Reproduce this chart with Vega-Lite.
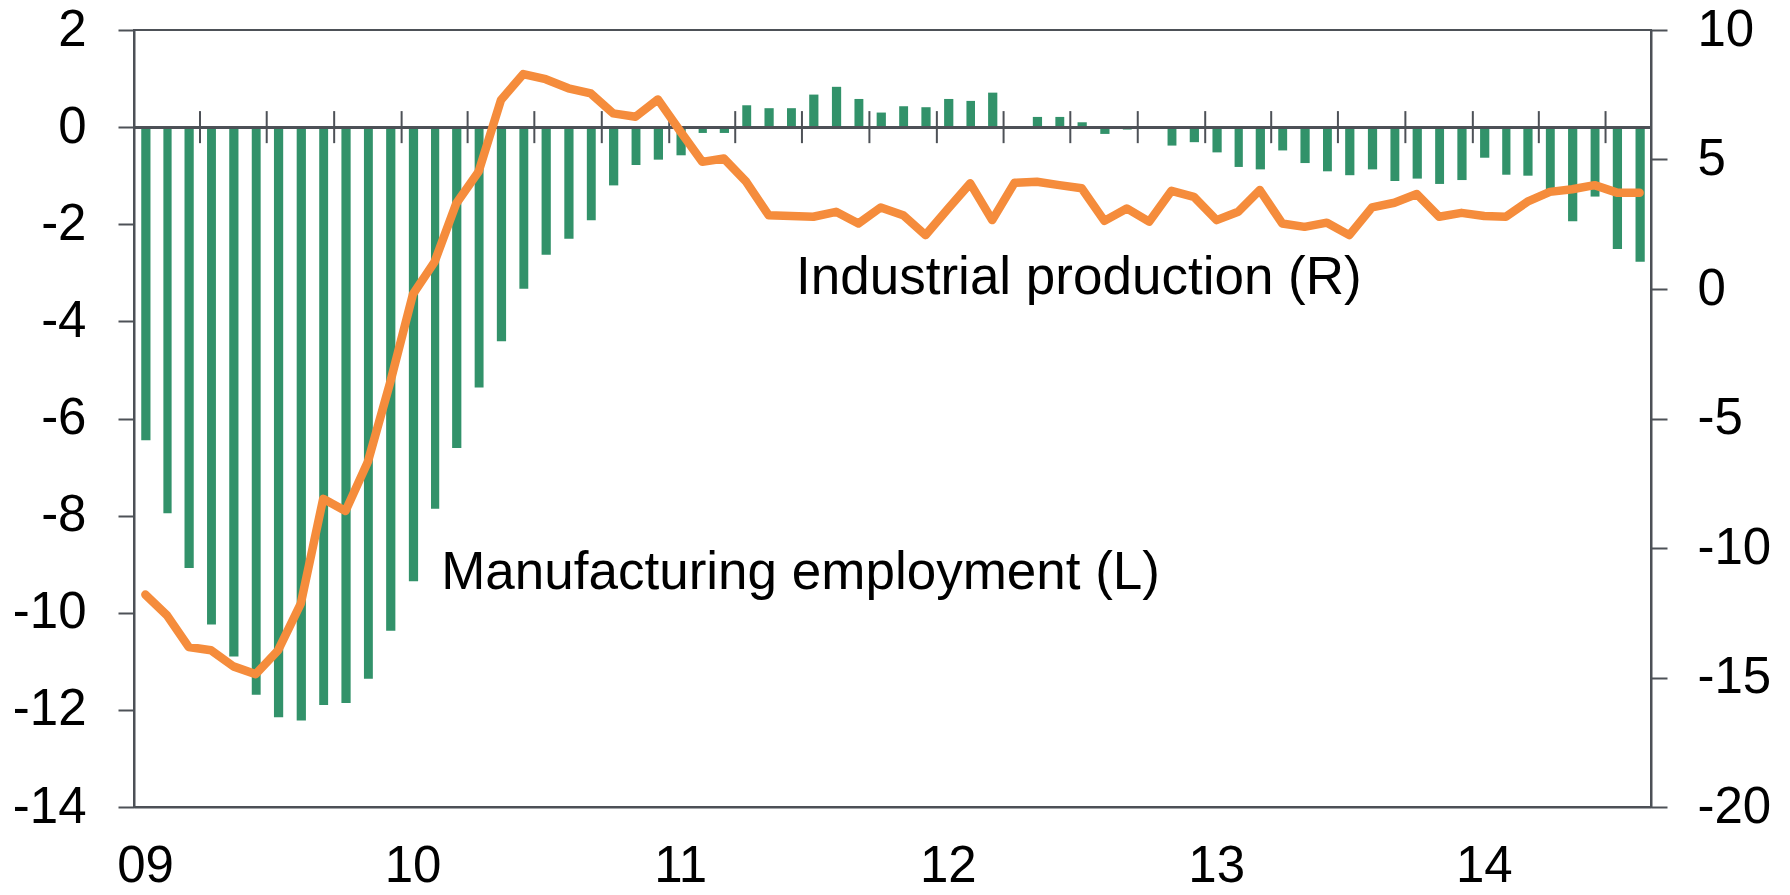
{
  "$schema": "https://vega.github.io/schema/vega-lite/v6.json",
  "width": 1517,
  "height": 777,
  "autosize": {"type": "none"},
  "padding": {"left": 134, "top": 30, "right": 139, "bottom": 88},
  "background": "white",
  "config": {
    "font": "Liberation Sans",
    "view": {"stroke": "#4d5157", "strokeWidth": 2},
    "axis": {
      "grid": false,
      "domainColor": "#4d5157",
      "domainWidth": 2,
      "tickColor": "#4d5157",
      "tickWidth": 2,
      "labelColor": "black",
      "labelFont": "Liberation Sans",
      "labelFontSize": 51
    }
  },
  "data": {
    "format": {"parse": {"date": "date"}},
    "values": [
      {"date": "2009-01-01", "emp": -6.45, "ip": -11.8},
      {"date": "2009-02-01", "emp": -7.95, "ip": -12.6},
      {"date": "2009-03-01", "emp": -9.08, "ip": -13.82},
      {"date": "2009-04-01", "emp": -10.24, "ip": -13.95},
      {"date": "2009-05-01", "emp": -10.9, "ip": -14.57},
      {"date": "2009-06-01", "emp": -11.69, "ip": -14.87},
      {"date": "2009-07-01", "emp": -12.15, "ip": -13.95},
      {"date": "2009-08-01", "emp": -12.22, "ip": -12.15},
      {"date": "2009-09-01", "emp": -11.9, "ip": -8.1},
      {"date": "2009-10-01", "emp": -11.86, "ip": -8.57},
      {"date": "2009-11-01", "emp": -11.36, "ip": -6.67},
      {"date": "2009-12-01", "emp": -10.37, "ip": -3.6},
      {"date": "2010-01-01", "emp": -9.35, "ip": -0.2},
      {"date": "2010-02-01", "emp": -7.86, "ip": 1.05},
      {"date": "2010-03-01", "emp": -6.61, "ip": 3.3},
      {"date": "2010-04-01", "emp": -5.36, "ip": 4.53},
      {"date": "2010-05-01", "emp": -4.41, "ip": 7.3},
      {"date": "2010-06-01", "emp": -3.33, "ip": 8.3},
      {"date": "2010-07-01", "emp": -2.63, "ip": 8.1},
      {"date": "2010-08-01", "emp": -2.3, "ip": 7.75},
      {"date": "2010-09-01", "emp": -1.92, "ip": 7.55},
      {"date": "2010-10-01", "emp": -1.2, "ip": 6.78},
      {"date": "2010-11-01", "emp": -0.78, "ip": 6.65},
      {"date": "2010-12-01", "emp": -0.67, "ip": 7.32},
      {"date": "2011-01-01", "emp": -0.58, "ip": 6.07},
      {"date": "2011-02-01", "emp": -0.12, "ip": 4.91},
      {"date": "2011-03-01", "emp": -0.12, "ip": 5.04},
      {"date": "2011-04-01", "emp": 0.45, "ip": 4.14},
      {"date": "2011-05-01", "emp": 0.39, "ip": 2.85},
      {"date": "2011-06-01", "emp": 0.39, "ip": 2.82},
      {"date": "2011-07-01", "emp": 0.67, "ip": 2.79},
      {"date": "2011-08-01", "emp": 0.83, "ip": 2.98},
      {"date": "2011-09-01", "emp": 0.58, "ip": 2.53},
      {"date": "2011-10-01", "emp": 0.3, "ip": 3.15},
      {"date": "2011-11-01", "emp": 0.43, "ip": 2.85},
      {"date": "2011-12-01", "emp": 0.41, "ip": 2.08},
      {"date": "2012-01-01", "emp": 0.58, "ip": 3.11},
      {"date": "2012-02-01", "emp": 0.54, "ip": 4.08},
      {"date": "2012-03-01", "emp": 0.71, "ip": 2.66},
      {"date": "2012-04-01", "emp": 0.0, "ip": 4.1},
      {"date": "2012-05-01", "emp": 0.21, "ip": 4.14},
      {"date": "2012-06-01", "emp": 0.21, "ip": 4.01},
      {"date": "2012-07-01", "emp": 0.1, "ip": 3.89},
      {"date": "2012-08-01", "emp": -0.14, "ip": 2.63},
      {"date": "2012-09-01", "emp": -0.05, "ip": 3.11},
      {"date": "2012-10-01", "emp": 0.0, "ip": 2.6},
      {"date": "2012-11-01", "emp": -0.38, "ip": 3.79},
      {"date": "2012-12-01", "emp": -0.31, "ip": 3.56},
      {"date": "2013-01-01", "emp": -0.52, "ip": 2.66},
      {"date": "2013-02-01", "emp": -0.82, "ip": 2.98},
      {"date": "2013-03-01", "emp": -0.87, "ip": 3.82},
      {"date": "2013-04-01", "emp": -0.48, "ip": 2.53},
      {"date": "2013-05-01", "emp": -0.74, "ip": 2.4},
      {"date": "2013-06-01", "emp": -0.91, "ip": 2.56},
      {"date": "2013-07-01", "emp": -0.99, "ip": 2.08},
      {"date": "2013-08-01", "emp": -0.87, "ip": 3.15},
      {"date": "2013-09-01", "emp": -1.11, "ip": 3.33},
      {"date": "2013-10-01", "emp": -1.06, "ip": 3.67},
      {"date": "2013-11-01", "emp": -1.17, "ip": 2.79},
      {"date": "2013-12-01", "emp": -1.09, "ip": 2.94},
      {"date": "2014-01-01", "emp": -0.63, "ip": 2.82},
      {"date": "2014-02-01", "emp": -0.98, "ip": 2.79},
      {"date": "2014-03-01", "emp": -1.0, "ip": 3.37},
      {"date": "2014-04-01", "emp": -1.3, "ip": 3.75},
      {"date": "2014-05-01", "emp": -1.94, "ip": 3.85},
      {"date": "2014-06-01", "emp": -1.43, "ip": 4.01},
      {"date": "2014-07-01", "emp": -2.51, "ip": 3.72},
      {"date": "2014-08-01", "emp": -2.77, "ip": 3.72}
    ]
  },
  "layer": [
    {
      "mark": {"type": "bar", "color": "#32926a", "width": {"band": 0.45}},
      "encoding": {
        "x": {
          "field": "date",
          "timeUnit": "utcyearmonth",
          "type": "temporal",
          "title": null,
          "scale": {
            "type": "utc",
            "domain": [1230768000000, 1409529600000]
          },
          "axis": {
            "orient": "bottom",
            "values": [1230768000000, 1262304000000, 1293840000000, 1325376000000, 1356998400000, 1388534400000],
            "labelExpr": "utcFormat(datum.value, '%y')",
            "tickSize": 0,
            "tickOpacity": 0,
            "labelPadding": 34,
            "labelOffset": 11,
            "labelFlush": false,
            "labelOverlap": false
          }
        },
        "y": {
          "field": "emp",
          "type": "quantitative",
          "title": null,
          "scale": {"domain": [-14, 2], "nice": false, "zero": false},
          "axis": {
            "orient": "left",
            "values": [-14, -12, -10, -8, -6, -4, -2, 0, 2],
            "labelExpr": "'' + datum.value",
            "tickSize": 16,
            "labelPadding": 32
          }
        }
      }
    },
    {
      "mark": {"type": "rule", "color": "#4d5157", "strokeWidth": 2.5},
      "encoding": {
        "y": {"datum": 0, "type": "quantitative", "scale": {"domain": [-14, 2], "nice": false, "zero": false}, "axis": null}
      }
    },
    {
      "transform": [
        {"filter": "utcmonth(datum.date) % 3 == 0 && (utcyear(datum.date) > 2009 || utcmonth(datum.date) > 0)"}
      ],
      "mark": {"type": "rule", "color": "#4d5157", "strokeWidth": 2},
      "encoding": {
        "x": {"field": "date", "type": "temporal", "scale": {"type": "utc"}},
        "y": {"datum": 0.33, "type": "quantitative", "scale": {"domain": [-14, 2], "nice": false, "zero": false}, "axis": null},
        "y2": {"datum": -0.33}
      }
    },
    {
      "data": {
        "format": {"parse": {"date": "date"}},
        "values": [
          {"label": "Industrial production (R)", "date": "2011-06-23", "v": -3.43},
          {"label": "Manufacturing employment (L)", "date": "2010-02-24", "v": -9.51}
        ]
      },
      "mark": {"type": "text", "align": "left", "baseline": "alphabetic", "fontSize": 53, "font": "Liberation Sans", "color": "black"},
      "encoding": {
        "x": {"field": "date", "type": "temporal", "scale": {"type": "utc"}},
        "y": {"field": "v", "type": "quantitative", "scale": {"domain": [-14, 2], "nice": false, "zero": false}, "axis": null},
        "text": {"field": "label"}
      }
    },
    {
      "mark": {"type": "line", "color": "#f58c3c", "strokeWidth": 8.5, "strokeJoin": "round", "strokeCap": "round"},
      "encoding": {
        "x": {"field": "date", "timeUnit": "utcyearmonth", "type": "temporal", "bandPosition": 0.5, "scale": {"type": "utc"}},
        "y": {
          "field": "ip",
          "type": "quantitative",
          "title": null,
          "scale": {"domain": [-20, 10], "nice": false, "zero": false},
          "axis": {
            "orient": "right",
            "values": [-20, -15, -10, -5, 0, 5, 10],
            "labelExpr": "'' + datum.value",
            "tickSize": 16,
            "labelPadding": 30
          }
        }
      }
    }
  ],
  "resolve": {"scale": {"y": "independent"}, "axis": {"y": "independent"}}
}
